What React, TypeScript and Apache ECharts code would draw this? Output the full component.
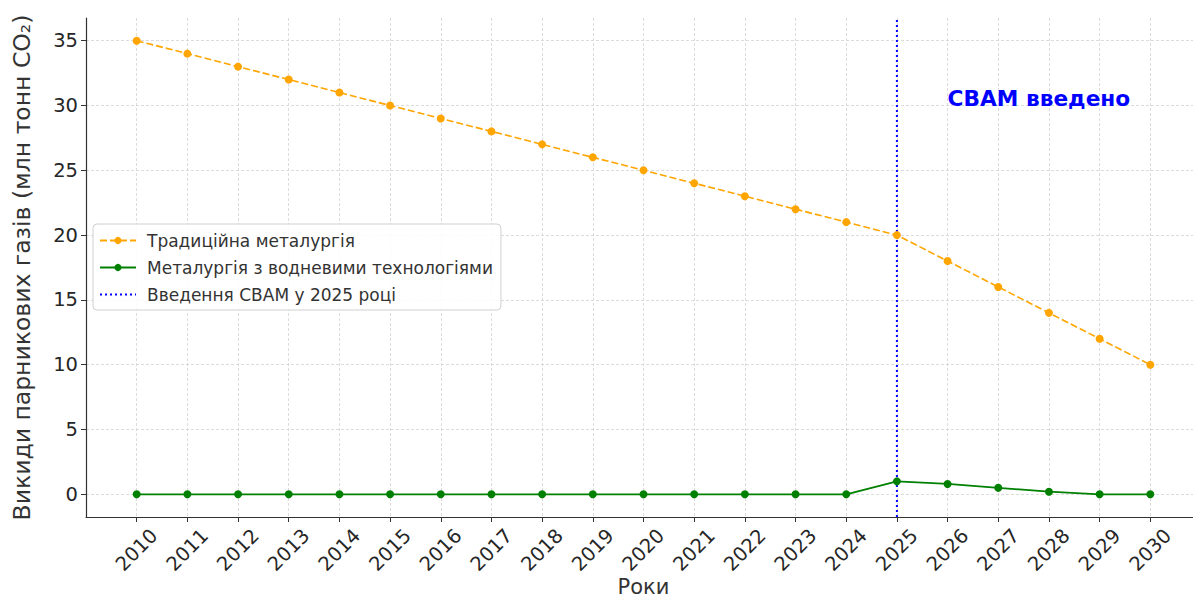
import React, { useEffect, useRef } from "react";
import * as echarts from "echarts";

const years = [2010, 2011, 2012, 2013, 2014, 2015, 2016, 2017, 2018, 2019, 2020, 2021, 2022, 2023, 2024, 2025, 2026, 2027, 2028, 2029, 2030];
const traditional = [35, 34, 33, 32, 31, 30, 29, 28, 27, 26, 25, 24, 23, 22, 21, 20, 18, 16, 14, 12, 10];
const hydrogen = [0, 0, 0, 0, 0, 0, 0, 0, 0, 0, 0, 0, 0, 0, 0, 1.0, 0.8, 0.5, 0.2, 0, 0];
const yTicks = [0, 5, 10, 15, 20, 25, 30, 35];
const cbamYear = 2025;
const yMin = -1.75;
const yMax = 36.75;
const xMin = 2009;
const xMax = 2031;
const annotation = { x: 2026, y: 30, text: "СВАМ введено" };
const names = ["Традиційна металургія", "Металургія з водневими технологіями", "Введення СВАМ у 2025 році"];

const FONT = "DejaVu Sans";

export default function App() {
  const ref = useRef<HTMLDivElement>(null);
  useEffect(() => {
    if (!ref.current) return;
    const chart = echarts.init(ref.current, null, { renderer: "svg" });
    const gridLine = { show: true, lineStyle: { color: "#d3d3d3", width: 0.8, type: [3, 2] as any } };
    chart.setOption({
      animation: false,
      backgroundColor: "#ffffff",
      textStyle: { fontFamily: FONT },
      grid: { left: 86, width: 1115, top: 18, bottom: 82, containLabel: false, outerBoundsMode: "none" },
      legend: {
        data: [
          { name: names[0] },
          { name: names[1] },
          { name: names[2], itemStyle: { opacity: 0 } },
        ],
        orient: "vertical",
        left: 93,
        top: 224,
        padding: [8, 8, 7, 6],
        itemWidth: 36,
        itemHeight: 9,
        itemGap: 10,
        backgroundColor: "rgba(255,255,255,0.85)",
        borderColor: "#d0d0d0",
        borderWidth: 1,
        borderRadius: 4,
        textStyle: { fontFamily: FONT, fontSize: 17, color: "#333333", padding: [0, 0, 0, 6] },
      },
      xAxis: {
        type: "value",
        min: xMin,
        max: xMax,
        name: "Роки",
        nameLocation: "middle",
        nameGap: 59,
        nameMoveOverlap: false,
        nameTextStyle: { fontFamily: FONT, fontSize: 21, lineHeight: 21, color: "#333333", verticalAlign: "top" },
        axisLine: { show: true, onZero: false, lineStyle: { color: "#333333", width: 1.2 } },
        axisTick: { show: true, length: 5, lineStyle: { color: "#333333" }, customValues: years },
        axisLabel: {
          rotate: 45,
          align: "center",
          verticalAlign: "middle",
          fontSize: 19.5,
          color: "#262626",
          margin: 33,
          fontFamily: FONT,
          customValues: years,
          formatter: (v: number) => String(v),
        },
        splitLine: gridLine,
      },
      yAxis: {
        type: "value",
        min: yMin,
        max: yMax,
        name: "Викиди парникових газів (млн тонн CO₂)",
        nameLocation: "middle",
        nameGap: 52,
        nameTextStyle: { fontFamily: FONT, fontSize: 23.5, color: "#333333" },
        axisLine: { show: true, lineStyle: { color: "#333333", width: 1.2 } },
        axisTick: { show: true, length: 5, lineStyle: { color: "#333333" }, customValues: yTicks },
        axisLabel: { fontSize: 19.5, color: "#262626", margin: 8, fontFamily: FONT, customValues: yTicks },
        splitLine: gridLine,
      },
      series: [
        {
          name: names[0],
          type: "line",
          data: years.map((y, i) => [y, traditional[i]]),
          symbol: "circle",
          symbolSize: 8,
          itemStyle: { color: "#FFA500" },
          lineStyle: { color: "#FFA500", width: 1.6, type: [7, 3] },
        },
        {
          name: names[1],
          type: "line",
          data: years.map((y, i) => [y, hydrogen[i]]),
          symbol: "circle",
          symbolSize: 8,
          itemStyle: { color: "#008000" },
          lineStyle: { color: "#008000", width: 1.8 },
        },
        {
          name: names[2],
          type: "line",
          data: [[cbamYear, yMin], [cbamYear, yMax]],
          symbol: "none",
          itemStyle: { color: "#0000FF" },
          lineStyle: { color: "#0000FF", width: 2, type: [2, 3] },
        },
        {
          type: "scatter",
          data: [[annotation.x, annotation.y]],
          symbolSize: 0,
          silent: true,
          itemStyle: { opacity: 1 },
          emphasis: { disabled: true },
          label: {
            show: true,
            position: [0, 0],
            align: "left",
            verticalAlign: "bottom",
            offset: [0, 4],
            formatter: annotation.text,
            fontFamily: FONT,
            fontSize: 21.7,
            fontWeight: "bold",
            color: "#0000FF",
            opacity: 1,
          },
        },
      ],
    });
    return () => chart.dispose();
  }, []);
  return <div ref={ref} style={{ position: "fixed", left: 0, top: 0, width: 1193, height: 599 }} />;
}
